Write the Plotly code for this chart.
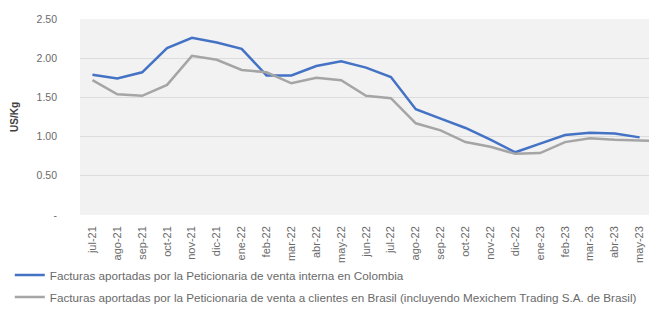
import plotly.graph_objects as go

months = ["jul-21", "ago-21", "sep-21", "oct-21", "nov-21", "dic-21", "ene-22", "feb-22",
          "mar-22", "abr-22", "may-22", "jun-22", "jul-22", "ago-22", "sep-22", "oct-22",
          "nov-22", "dic-22", "ene-23", "feb-23", "mar-23", "abr-23", "may-23", "jun-23"]

colombia = [1.79, 1.74, 1.82, 2.13, 2.26, 2.20, 2.12, 1.78,
            1.78, 1.90, 1.96, 1.88, 1.76, 1.35, 1.23, 1.11,
            0.96, 0.80, 0.91, 1.02, 1.05, 1.04, 0.99, None]

brasil = [1.72, 1.54, 1.52, 1.66, 2.03, 1.98, 1.85, 1.82,
          1.68, 1.75, 1.72, 1.52, 1.49, 1.17, 1.08, 0.93,
          0.87, 0.78, 0.79, 0.93, 0.98, 0.96, 0.95, 0.94]

name_col = "Facturas aportadas por la Peticionaria de venta interna en Colombia"
name_bra = "Facturas aportadas por la Peticionaria de venta a clientes en Brasil (incluyendo Mexichem Trading S.A. de Brasil)"

ytick_vals = [0, 0.5, 1.0, 1.5, 2.0, 2.5]
ytick_text = ["-", "0.50", "1.00", "1.50", "2.00", "2.50"]

font_family = "Liberation Sans, Arial, sans-serif"
txt_color = "#6a6a6a"

fig = go.Figure()
fig.add_trace(go.Scatter(x=list(range(len(months))), y=colombia, mode="lines", name=name_col,
                         line=dict(color="#4472C4", width=2.5), legendgroup="a",
                         connectgaps=False))
fig.add_trace(go.Scatter(x=list(range(len(months))), y=brasil, mode="lines", name=name_bra,
                         line=dict(color="#A5A5A5", width=2.5), legendgroup="b"))

fig.update_layout(
    width=657, height=310,
    margin=dict(l=72, r=0, t=11, b=103),
    paper_bgcolor="white",
    plot_bgcolor="#f2f2f2",
    font=dict(family=font_family, color=txt_color, size=10),
    showlegend=True,
    legend=dict(orientation="v", x=-0.12, xanchor="left", y=-0.232, yanchor="top",
                font=dict(size=11.7, color=txt_color), tracegroupgap=3,
                bgcolor="rgba(0,0,0,0)"),
    xaxis=dict(
        range=[-0.5, 23.02],
        tickmode="array",
        tickvals=list(range(len(months))),
        ticktext=months,
        tickangle=-90,
        tickfont=dict(size=11, color=txt_color),
        showgrid=False,
        zeroline=False,
        showline=False,
        ticks="",
        ticklabelstandoff=8,
    ),
    yaxis=dict(
        range=[0, 2.5],
        tickmode="array",
        tickvals=ytick_vals,
        ticktext=ytick_text,
        tickfont=dict(size=10.5, color=txt_color),
        showgrid=True,
        gridcolor="#dcdcdc",
        gridwidth=1,
        zeroline=False,
        showline=False,
        ticks="",
        ticklabelstandoff=22,
        title=dict(text="<b>US/Kg</b>", font=dict(size=10, color="#404040"), standoff=16),
    ),
)

fig.write_html("out.html")
